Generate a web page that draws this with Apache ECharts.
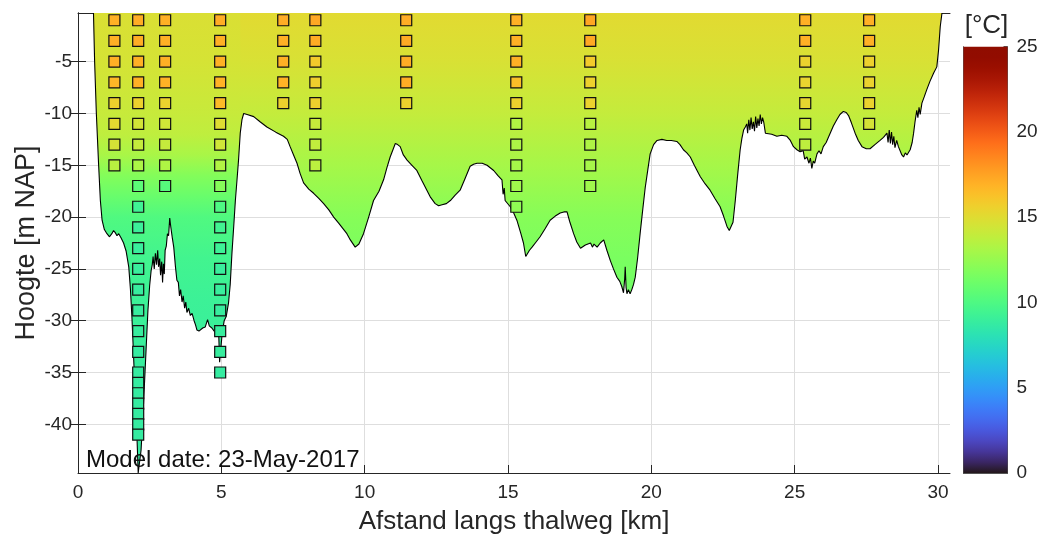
<!DOCTYPE html>
<html><head><meta charset="utf-8">
<script src="https://cdn.jsdelivr.net/npm/echarts@6/dist/echarts.min.js"></script>
<style>html,body{margin:0;padding:0;background:#fff}#c{width:1047px;height:543px}</style>
</head><body><div id="c"></div>
<script>
// ---------- data ----------
const xTicks = [0, 5, 10, 15, 20, 25, 30];
const yTicks = [-40, -35, -30, -25, -20, -15, -10, -5];
const cbTicks = [0, 5, 10, 15, 20, 25];
const X_MIN = 0, X_MAX = 30.42, Y_MIN = -44.7, Y_MAX = -0.3, T_MIN = 0, T_MAX = 25;

// bed profile (thalweg), km / m NAP
const bedKm = [0.54,0.58,0.64,0.72,0.78,0.84,0.92,1.01,1.10,1.18,1.24,1.30,1.36,1.42,1.50,1.59,1.68,1.77,1.83,1.88,1.94,2.00,2.06,2.10,2.15,2.20,2.26,2.32,2.38,2.44,2.50,2.55,2.59,2.62,2.66,2.70,2.74,2.78,2.81,2.85,2.88,2.92,2.95,2.98,3.01,3.04,3.08,3.12,3.16,3.20,3.24,3.29,3.34,3.40,3.45,3.50,3.54,3.58,3.63,3.67,3.72,3.76,3.80,3.86,3.92,3.98,4.05,4.10,4.15,4.22,4.27,4.35,4.44,4.52,4.58,4.67,4.75,4.85,4.91,4.94,5.00,5.03,5.10,5.17,5.25,5.31,5.37,5.43,5.49,5.55,5.60,5.66,5.72,5.78,
  5.90,6.13,6.35,6.59,6.90,7.17,7.30,7.40,7.52,7.64,7.75,7.87,8.05,8.22,8.40,8.57,8.75,8.92,9.10,9.38,9.50,9.67,9.80,9.96,10.14,10.31,10.50,10.66,10.78,10.89,11.00,11.07,11.15,11.24,11.35,11.48,11.65,11.82,12.00,12.17,12.30,12.46,12.58,12.70,12.85,12.99,13.15,13.33,13.50,13.68,13.80,13.92,14.10,14.27,14.50,14.65,14.79,14.83,14.87,14.90,15.08,15.20,15.31,15.45,15.54,15.62,15.66,15.75,15.84,15.98,16.12,16.30,16.47,16.65,16.82,16.95,17.06,17.15,17.29,17.40,17.53,17.70,17.88,17.95,18.00,18.11,18.22,18.34,18.45,18.57,18.68,18.80,18.90,18.97,19.03,19.07,19.09,19.12,19.15,19.20,19.26,19.32,19.38,19.44,19.52,19.61,19.70,19.79,19.88,19.96,20.08,20.20,20.37,20.54,20.70,20.89,21.00,21.12,21.24,21.36,21.50,21.65,21.71,21.88,22.05,22.22,22.40,22.52,22.64,22.72,22.78,22.85,22.93,23.01,23.10,23.16,23.22,23.28,23.33,23.36,23.40,23.44,23.48,23.52,23.56,23.60,23.64,23.68,23.72,23.76,23.80,23.84,23.88,23.92,23.98,24.03,24.20,24.38,24.55,24.73,24.85,24.96,25.08,25.19,25.30,25.35,25.43,25.50,25.55,25.60,25.65,25.70,25.78,25.85,25.92,26.00,26.10,26.24,26.35,26.47,26.58,26.70,26.80,26.88,26.98,27.11,27.22,27.35,27.50,27.63,27.80,27.98,28.10,28.22,28.26,28.30,28.34,28.38,28.42,28.46,28.50,28.56,28.62,28.68,28.74,28.80,28.86,28.92,29.03,29.10,29.15,29.20,29.26,29.30,29.34,29.38,29.44,29.52,29.61,29.72,29.85,29.96,30.02,30.08,30.14];
const bedZ = [-0.3,-5.0,-10.0,-15.0,-18.4,-20.3,-21.2,-21.6,-21.9,-21.6,-21.3,-21.5,-21.8,-21.6,-22.0,-22.5,-23.3,-24.8,-27.0,-29.6,-33.5,-37.7,-41.5,-44.7,-44.7,-42.5,-39.5,-36.0,-32.5,-29.0,-26.6,-25.2,-24.6,-23.8,-25.0,-23.5,-24.6,-23.2,-24.8,-24.0,-25.6,-24.3,-26.3,-24.5,-25.5,-23.2,-22.8,-21.6,-21.8,-20.1,-21.0,-22.0,-22.9,-24.8,-26.1,-26.3,-27.6,-27.0,-28.2,-27.6,-28.8,-28.2,-29.2,-28.8,-29.5,-29.3,-30.0,-30.4,-30.9,-31.0,-30.9,-30.7,-30.6,-29.9,-30.5,-30.7,-31.0,-31.1,-31.4,-34.0,-34.0,-31.2,-30.0,-29.6,-28.3,-26.5,-23.5,-21.0,-18.4,-16.3,-14.5,-11.9,-10.6,-10.0,
  -10.1,-10.3,-10.8,-11.3,-11.8,-12.2,-12.5,-13.2,-14.0,-14.8,-15.8,-16.7,-17.3,-17.7,-18.2,-18.7,-19.3,-20.0,-20.6,-21.6,-22.2,-22.9,-22.6,-21.6,-20.0,-18.4,-17.5,-16.4,-15.2,-14.2,-13.4,-12.9,-13.0,-13.2,-14.0,-14.5,-15.0,-15.5,-16.5,-17.4,-18.1,-18.7,-18.9,-18.8,-18.7,-18.4,-17.9,-17.4,-16.3,-15.1,-14.9,-14.8,-14.8,-15.0,-15.5,-16.0,-16.4,-17.8,-17.2,-18.4,-19.0,-19.6,-20.3,-21.6,-22.5,-23.8,-23.8,-23.2,-22.9,-22.4,-21.9,-21.1,-20.3,-19.9,-19.6,-19.5,-19.5,-20.4,-21.6,-22.4,-23.0,-22.7,-22.5,-22.9,-22.6,-22.9,-22.5,-22.2,-23.2,-24.2,-25.0,-25.8,-26.2,-26.7,-27.3,-26.0,-24.8,-26.8,-27.4,-27.0,-27.4,-27.0,-26.5,-25.8,-24.0,-21.6,-19.3,-17.1,-15.4,-13.9,-13.0,-12.6,-12.5,-12.6,-12.6,-12.7,-13.0,-13.5,-13.8,-14.2,-15.0,-15.8,-16.1,-16.8,-17.4,-18.2,-19.0,-19.9,-20.9,-21.3,-21.4,-20.5,-18.4,-16.0,-13.5,-12.4,-11.6,-11.3,-11.0,-11.9,-10.6,-11.6,-10.4,-11.5,-10.8,-11.7,-10.3,-11.4,-10.5,-11.2,-10.1,-11.0,-10.4,-10.8,-11.9,-11.9,-12.0,-12.2,-12.1,-12.2,-12.6,-13.2,-13.5,-13.7,-13.6,-14.4,-14.2,-14.8,-14.3,-15.3,-14.6,-14.8,-13.9,-13.6,-13.9,-13.2,-12.8,-11.9,-11.2,-10.6,-10.1,-9.8,-9.9,-10.2,-10.9,-11.9,-12.6,-13.2,-13.4,-13.4,-13.0,-12.6,-12.3,-11.9,-12.8,-11.6,-12.9,-11.8,-13.0,-12.2,-13.3,-12.6,-13.2,-13.2,-14.0,-14.2,-13.8,-14.0,-13.5,-12.8,-11.9,-10.8,-9.7,-10.4,-9.4,-10.1,-9.0,-8.4,-7.7,-6.9,-6.1,-5.5,-3.9,-1.6,-0.3];
const splitKmLeft = 5.78;   // end of deep western part
const splitKmRight = 5.66;  // start of eastern part

// background temperature profiles (depth -> °C)
const westZ = [0, -5, -10, -12, -14, -16, -18, -20, -24, -28, -35, -45];
const westT = [14.8, 14.6, 14.1, 13.8, 13.1, 11.9, 11.0, 10.1, 9.5, 9.2, 8.9, 8.8];
const eastZ = [0, -5, -10, -15, -20, -24, -28];
const eastT = [15.1, 14.7, 14.0, 13.0, 12.0, 11.6, 11.3];

// measurement stations
const stationKm = [1.27, 2.10, 3.04, 4.96, 7.16, 8.28, 11.45, 15.29, 17.87, 25.37, 27.60];
const stationDepth = [
  [-1,-3,-5,-7,-9,-11,-13,-15],
  [-1,-3,-5,-7,-9,-11,-13,-15,-17,-19,-21,-23,-25,-27,-29,-31,-33,-35,-36,-37,-38,-39,-40,-41],
  [-1,-3,-5,-7,-9,-11,-13,-15,-17],
  [-1,-3,-5,-7,-9,-11,-13,-15,-17,-19,-21,-23,-25,-27,-29,-31,-33,-35],
  [-1,-3,-5,-7,-9],
  [-1,-3,-5,-7,-9,-11,-13,-15],
  [-1,-3,-5,-7,-9],
  [-1,-3,-5,-7,-9,-11,-13,-15,-17,-19],
  [-1,-3,-5,-7,-9,-11,-13,-15,-17],
  [-1,-3,-5,-7,-9,-11,-13],
  [-1,-3,-5,-7,-9,-11]
];
const stationTemp = [
  [17.0,17.0,17.0,16.7,15.6,15.2,14.6,13.6],
  [17.1,17.1,17.0,17.0,15.6,14.5,14.0,13.2,10.5,9.3,9.1,9.0,9.0,8.9,8.9,8.9,8.8,8.8,8.8,8.8,8.8,8.8,8.8,8.8],
  [17.0,17.0,17.0,16.9,15.5,14.4,14.0,13.3,10.3],
  [17.1,17.0,17.0,16.9,16.6,15.0,14.4,13.4,12.0,10.0,9.4,9.2,9.0,9.0,8.9,8.9,8.9,8.8],
  [17.1,17.0,17.0,16.9,15.6],
  [17.3,17.2,15.9,15.7,15.6,14.1,13.9,13.7],
  [17.1,17.2,17.1,17.1,15.6],
  [17.0,17.0,17.0,16.4,15.6,13.4,13.2,13.0,12.8,12.3],
  [17.4,17.3,15.9,15.6,15.5,13.6,13.3,13.0,12.8],
  [17.0,17.0,15.5,15.4,15.3,14.2,13.8],
  [17.0,17.0,15.6,15.5,15.5,14.6]
];
const modelDate = 'Model date: 23-May-2017';

// ---------- colormap (turbo) ----------
function turbo(t) {
  t = Math.max(0, Math.min(1, t));
  const r = 0.13572138 + t*(4.61539260 + t*(-42.66032258 + t*(132.13108234 + t*(-152.94239396 + t*59.28637943))));
  const g = 0.09140261 + t*(2.19418839 + t*(4.84296658 + t*(-14.18503333 + t*(4.27729857 + t*2.82956604))));
  const b = 0.10667330 + t*(12.64194608 + t*(-60.58204836 + t*(110.36276771 + t*(-89.90310912 + t*27.34824973))));
  const c = v => Math.round(255 * Math.max(0, Math.min(1, v)));
  return 'rgb(' + c(r) + ',' + c(g) + ',' + c(b) + ')';
}
const tempColor = T => turbo((T - T_MIN) / (T_MAX - T_MIN));
const cmap = [];
for (let i = 0; i <= 40; i++) cmap.push(turbo(i / 40));

function fillGradient(profZ, profT, zBottom) {
  const stops = profZ.map((z, i) => ({
    offset: Math.max(0, Math.min(1, (Y_MAX - z) / (Y_MAX - zBottom))),
    color: tempColor(profT[i])
  }));
  return new echarts.graphic.LinearGradient(0, 0, 0, 1, stops);
}

// ---------- build series data ----------
const bedAll = bedKm.map((x, i) => [x, bedZ[i]]);
const westPts = bedAll.filter(p => p[0] <= splitKmLeft);
const eastPts = bedAll.filter(p => p[0] >= splitKmRight);
const westMin = Math.min.apply(null, westPts.map(p => p[1]));
const eastMin = Math.min.apply(null, eastPts.map(p => p[1]));

const stationPts = [];
stationKm.forEach((x, i) => stationDepth[i].forEach((z, j) => stationPts.push([x, z, stationTemp[i][j]])));

const cbStops = [];
for (let i = 0; i <= 40; i++) cbStops.push({ offset: i / 40, color: turbo(1 - i / 40) });

const ink = '#262626';
const fontFam = '"Liberation Sans", Arial, Helvetica, sans-serif';

const chart = echarts.init(document.getElementById('c'), null, { renderer: 'canvas' });
chart.setOption({
  animation: false,
  backgroundColor: '#ffffff',
  textStyle: { fontFamily: fontFam },
  grid: [
    { left: 78, top: 13, width: 872, height: 460 },
    { left: 963.5, top: 46.7, width: 44, height: 426.3 }
  ],
  xAxis: [
    { gridIndex: 0, type: 'value', min: X_MIN, max: X_MAX, position: 'bottom',
      axisLine: { show: true, lineStyle: { color: ink, width: 1 } },
      axisTick: { show: true, inside: true, length: 8, customValues: xTicks, lineStyle: { color: ink } },
      axisLabel: { color: ink, fontSize: 19, margin: 10, fontFamily: fontFam, customValues: xTicks },
      splitLine: { show: true, lineStyle: { color: '#dedede', width: 1 } },
      name: 'Afstand langs thalweg [km]', nameLocation: 'middle', nameGap: 36, nameMoveOverlap: false,
      nameTextStyle: { color: ink, fontSize: 26, fontFamily: fontFam } },
    { gridIndex: 0, type: 'value', min: X_MIN, max: X_MAX, position: 'top',
      axisLine: { show: true, lineStyle: { color: ink, width: 1 } },
      axisTick: { show: true, inside: true, length: 8, customValues: xTicks, lineStyle: { color: ink } },
      axisLabel: { show: false }, splitLine: { show: false } },
    { gridIndex: 1, type: 'category', data: ['cb'], position: 'bottom',
      axisLine: { show: true, lineStyle: { color: '#555' } }, axisTick: { show: false },
      axisLabel: { show: false }, splitLine: { show: false } },
    { gridIndex: 1, type: 'category', data: ['cb'], position: 'top',
      axisLine: { show: true, lineStyle: { color: '#555' } }, axisTick: { show: false },
      axisLabel: { show: false }, splitLine: { show: false } }
  ],
  yAxis: [
    { gridIndex: 0, type: 'value', min: Y_MIN, max: Y_MAX, position: 'left',
      axisLine: { show: true, lineStyle: { color: ink, width: 1 } },
      axisTick: { show: true, inside: true, length: 8, customValues: yTicks, lineStyle: { color: ink } },
      axisLabel: { color: ink, fontSize: 19, margin: 6, fontFamily: fontFam, customValues: yTicks },
      splitLine: { show: true, lineStyle: { color: '#dedede', width: 1 } },
      name: 'Hoogte [m NAP]', nameLocation: 'middle', nameGap: 38, nameMoveOverlap: false,
      nameTextStyle: { color: ink, fontSize: 27, fontFamily: fontFam } },
    { gridIndex: 0, type: 'value', min: Y_MIN, max: Y_MAX, position: 'right',
      axisLine: { show: true, lineStyle: { color: ink, width: 1 } },
      axisTick: { show: true, inside: true, length: 8, customValues: yTicks, lineStyle: { color: ink } },
      axisLabel: { show: false }, splitLine: { show: false } },
    { gridIndex: 1, type: 'value', min: T_MIN, max: T_MAX, interval: 5, position: 'right',
      axisLine: { show: true, lineStyle: { color: '#555' } },
      axisTick: { show: true, inside: true, length: 4, lineStyle: { color: '#555' } },
      axisLabel: { color: ink, fontSize: 19, margin: 9, fontFamily: fontFam },
      splitLine: { show: false },
      name: '[°C]', nameLocation: 'end', nameGap: 8,
      nameTextStyle: { color: ink, fontSize: 26, fontFamily: fontFam, align: 'center', padding: [0, 0, 0, -42] } },
    { gridIndex: 1, type: 'value', min: T_MIN, max: T_MAX, position: 'left',
      axisLine: { show: true, lineStyle: { color: '#555' } },
      axisTick: { show: false }, axisLabel: { show: false }, splitLine: { show: false } }
  ],
  visualMap: {
    show: false, type: 'continuous', min: T_MIN, max: T_MAX, dimension: 2, seriesIndex: 3,
    inRange: { color: cmap }
  },
  series: [
    { type: 'line', xAxisIndex: 0, yAxisIndex: 0, data: westPts, showSymbol: false, silent: true,
      lineStyle: { width: 0, opacity: 0 },
      areaStyle: { origin: 'end', opacity: 1, color: fillGradient(westZ, westT, westMin) }, z: 2 },
    { type: 'line', xAxisIndex: 0, yAxisIndex: 0, data: eastPts, showSymbol: false, silent: true,
      lineStyle: { width: 0, opacity: 0 },
      areaStyle: { origin: 'end', opacity: 1, color: fillGradient(eastZ, eastT, eastMin) }, z: 2 },
    { type: 'line', xAxisIndex: 0, yAxisIndex: 0, data: bedAll, showSymbol: false, silent: true,
      lineStyle: { width: 1.1, color: '#000' }, z: 3 },
    { type: 'scatter', xAxisIndex: 0, yAxisIndex: 0, data: stationPts, symbol: 'rect', symbolSize: 11,
      itemStyle: { borderColor: '#111', borderWidth: 1.2, opacity: 1 }, silent: true, z: 5 },
    { type: 'bar', xAxisIndex: 2, yAxisIndex: 2, data: [T_MAX], barWidth: '100%', silent: true,
      itemStyle: { color: new echarts.graphic.LinearGradient(0, 0, 0, 1, cbStops) } }
  ],
  graphic: [
    { type: 'text', left: 86, top: 448, z: 10, silent: true,
      style: { text: modelDate, fill: '#111', font: '24px ' + fontFam } }
  ]
});
</script></body></html>
